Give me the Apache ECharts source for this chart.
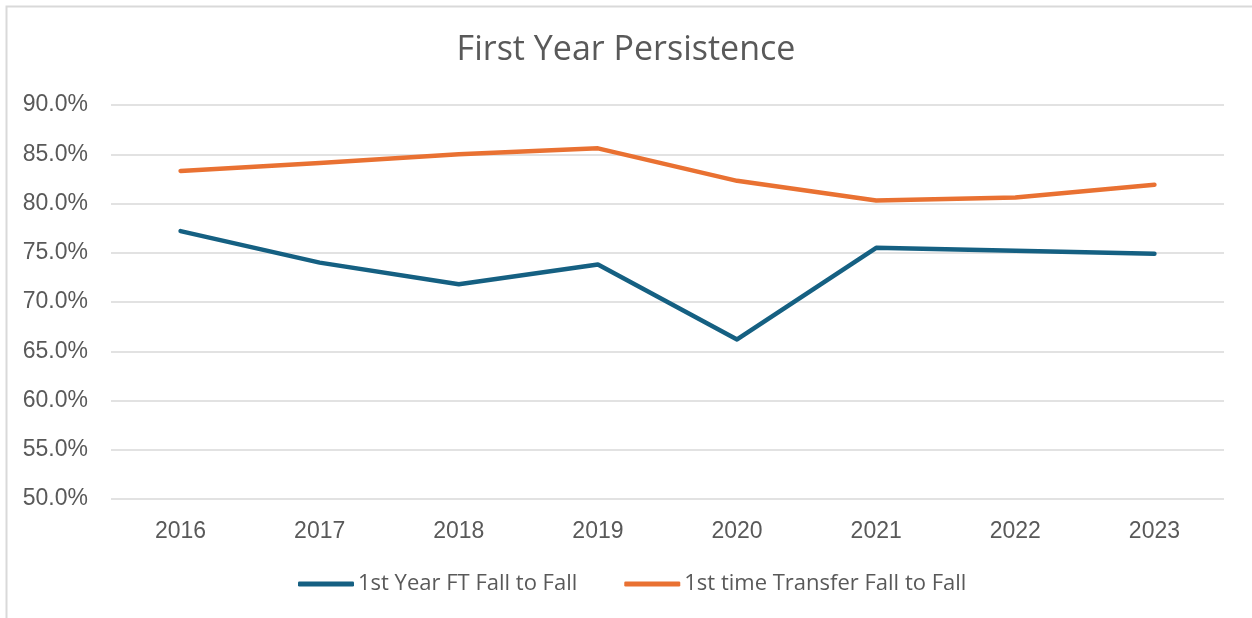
<!DOCTYPE html>
<html>
<head>
    <meta charset="utf-8" />
    <title>First Year Persistence</title>
    <script src="https://cdn.jsdelivr.net/npm/echarts@6/dist/echarts.min.js"></script>
    <style type="text/css">
        html, body { width: 100%; height: 100%; margin: 0; background: #fff; }
        #chart { width: 1252px; height: 618px; }
    </style>
</head>
<body>
    <div id="chart"></div>
    <script>
        var years = ['2016', '2017', '2018', '2019', '2020', '2021', '2022', '2023'];
        var firstYearFT = [77.2, 74.0, 71.8, 73.8, 66.2, 75.5, 75.2, 74.9];
        var firstTimeTransfer = [83.3, 84.1, 85.0, 85.6, 82.3, 80.3, 80.6, 81.9];
        var seriesNames = ['1st Year FT Fall to Fall', '1st time Transfer Fall to Fall'];

        var textColor = '#595959';
        var chart = echarts.init(document.getElementById('chart'), null, { renderer: 'canvas' });

        chart.setOption({
            animation: false,
            backgroundColor: '#fff',
            graphic: [{
                type: 'rect',
                shape: { x: 6.5, y: 6.5, width: 1300, height: 700 },
                style: { fill: 'none', stroke: '#d9d9d9', lineWidth: 2 },
                silent: true
            }],
            title: {
                text: 'First Year Persistence',
                left: 'center',
                top: 28,
                textStyle: { fontFamily: 'Open Sans', fontSize: 34, fontWeight: 'normal', color: textColor }
            },
            legend: {
                top: 568,
                left: 293,
                itemWidth: 56,
                itemHeight: 5,
                itemGap: 47,
                icon: 'roundRect',
                textStyle: { fontFamily: 'Open Sans', fontSize: 22, color: textColor, padding: [0, 0, 0, -1] },
                data: seriesNames
            },
            grid: { left: 111, right: 28, top: 105, bottom: 119, containLabel: false },
            xAxis: {
                type: 'category',
                data: years,
                boundaryGap: true,
                axisLine: { show: false },
                axisTick: { show: false },
                axisLabel: { color: textColor, fontFamily: 'Liberation Sans', fontSize: 23, margin: 21 }
            },
            yAxis: {
                type: 'value',
                min: 50,
                max: 90,
                interval: 5,
                axisLine: { show: false },
                axisTick: { show: false },
                splitLine: { lineStyle: { color: '#d9d9d9', width: 1.5 } },
                axisLabel: {
                    color: textColor, fontFamily: 'Liberation Sans', fontSize: 23, margin: 23,
                    formatter: function (v) { return v.toFixed(1) + '%'; }
                }
            },
            series: [
                {
                    name: seriesNames[0],
                    type: 'line',
                    data: firstYearFT,
                    symbol: 'none',
                    lineStyle: { color: '#156082', width: 4.5, cap: 'round', join: 'round' },
                    itemStyle: { color: '#156082' }
                },
                {
                    name: seriesNames[1],
                    type: 'line',
                    data: firstTimeTransfer,
                    symbol: 'none',
                    lineStyle: { color: '#E97132', width: 4.5, cap: 'round', join: 'round' },
                    itemStyle: { color: '#E97132' }
                }
            ]
        });
    </script>
</body>
</html>
